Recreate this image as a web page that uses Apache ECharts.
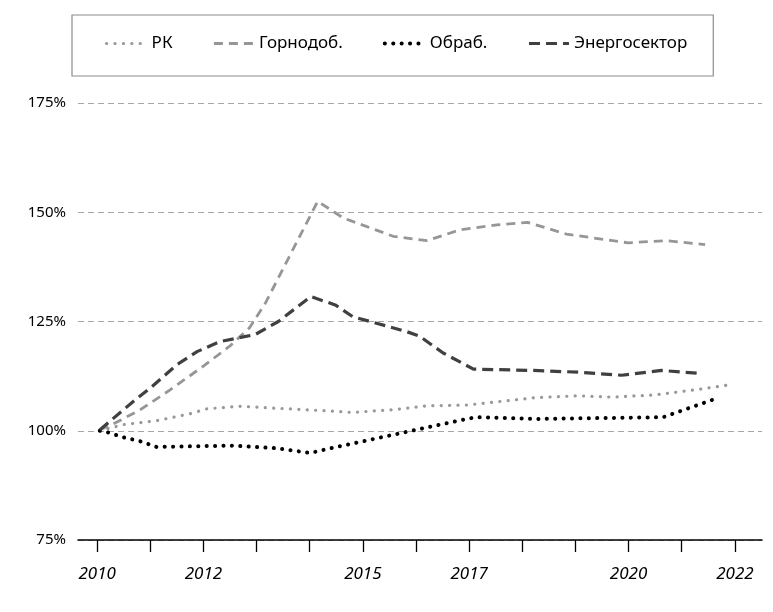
<!DOCTYPE html>
<html><head><meta charset="utf-8">
<script src="https://cdn.jsdelivr.net/npm/echarts@6/dist/echarts.min.js"></script>
<style>html,body{margin:0;padding:0;background:#fff}#c{width:773px;height:612px}</style>
</head><body><div id="c"></div>
<script>
const seriesNames = ['РК', 'Горнодоб.', 'Обраб.', 'Энергосектор'];
const tickYears = [2010, 2011, 2012, 2013, 2014, 2015, 2016, 2017, 2018, 2019, 2020, 2021, 2022];
const labelYears = [2010, 2012, 2015, 2017, 2020, 2022];

const rkX = [2010.05, 2010.49, 2011.12, 2011.75, 2012.06, 2012.69, 2013.31, 2014.26, 2014.79, 2015.57, 2016.2, 2016.98, 2018.27, 2019.05, 2019.68, 2020.49, 2021.28, 2021.9];
const rkY = [100, 101.4, 102.3, 103.9, 105.0, 105.6, 105.2, 104.6, 104.2, 104.8, 105.7, 105.9, 107.6, 108.0, 107.7, 108.2, 109.4, 110.5];

const minX = [2010.05, 2010.28, 2010.81, 2011.38, 2012.0, 2012.5, 2012.87, 2013.17, 2014.15, 2014.63, 2015.57, 2016.21, 2016.83, 2017.52, 2018.10, 2018.83, 2019.99, 2020.71, 2021.44];
const minY = [100.2, 101.4, 104.8, 109.4, 114.8, 119.4, 123.6, 129.3, 152.5, 148.7, 144.5, 143.5, 146.0, 147.1, 147.7, 145.0, 143.0, 143.5, 142.6];

const manX = [2010.05, 2010.21, 2010.49, 2010.81, 2011.12, 2012.56, 2013.38, 2014.01, 2014.32, 2016.95, 2017.14, 2018.27, 2020.65, 2021.7];
const manY = [100, 99.6, 98.5, 97.6, 96.3, 96.6, 96.0, 94.9, 95.8, 102.7, 103.1, 102.7, 103.1, 107.6];

const enX = [2010.05, 2010.68, 2011.03, 2011.5, 2011.88, 2012.31, 2012.97, 2013.41, 2014.02, 2014.48, 2014.81, 2015.82, 2016.07, 2016.51, 2017.08, 2018.2, 2019.05, 2019.87, 2020.62, 2021.37];
const enY = [100.2, 106.7, 110.1, 115.1, 118.1, 120.4, 122.0, 125.0, 130.7, 128.8, 126.1, 122.7, 121.6, 117.8, 114.1, 113.8, 113.4, 112.7, 113.8, 113.1];

function zip(xs, ys) { return xs.map((x, i) => [x, ys[i]]); }

const FONT = 'Noto Sans';
const styles = [
  { color: '#999999', width: 3.2, type: [0.1, 8.3], cap: 'round' },
  { color: '#969696', width: 2.8, type: [9, 6], cap: 'butt' },
  { color: '#000000', width: 4, type: [0.1, 8.3], cap: 'round' },
  { color: '#404040', width: 3.2, type: [11, 6], cap: 'butt' }
];
const xsList = [rkX, minX, manX, enX];
const ysList = [rkY, minY, manY, enY];

const chart = echarts.init(document.getElementById('c'), null, { renderer: 'canvas' });
chart.setOption({
  animation: false,
  backgroundColor: '#fff',
  textStyle: { fontFamily: FONT },
  legend: {
    left: 72, top: 15,
    padding: [20, 26, 24, 33],
    itemGap: 40,
    itemWidth: 40, itemHeight: 14,
    borderColor: '#8c8c8c', borderWidth: 1.2,
    itemStyle: { opacity: 0, color: 'rgba(0,0,0,0)', borderWidth: 0 },
    textStyle: { fontFamily: FONT, fontSize: 17, color: '#000' },
    data: seriesNames.map((n, i) => ({ name: n, lineStyle: Object.assign({}, styles[i]) }))
  },
  grid: { left: 78, right: 11, top: 103, bottom: 72 },
  xAxis: {
    type: 'value',
    min: 2009.64, max: 2022.51,
    axisLine: { show: true, lineStyle: { color: '#000', width: 1.5 } },
    axisTick: { show: true, customValues: tickYears, length: 12, lineStyle: { color: '#000', width: 1.3 } },
    axisLabel: {
      customValues: labelYears, margin: 26,
      fontFamily: FONT, fontSize: 17, fontStyle: 'italic', color: '#000',
      formatter: v => String(Math.round(v))
    },
    splitLine: { show: false }
  },
  yAxis: {
    type: 'value', min: 75, max: 175, interval: 25,
    axisLine: { show: false }, axisTick: { show: false },
    axisLabel: { margin: 12, fontFamily: FONT, fontSize: 15, color: '#000', formatter: '{value}%' },
    splitLine: { show: true, lineStyle: { color: '#a6a6a6', width: 1, type: [6, 4] } }
  },
  series: seriesNames.map((n, i) => ({
    name: n, type: 'line', data: zip(xsList[i], ysList[i]),
    symbol: 'none', showSymbol: false,
    lineStyle: styles[i], itemStyle: { color: styles[i].color }
  }))
});
</script>
</body></html>
